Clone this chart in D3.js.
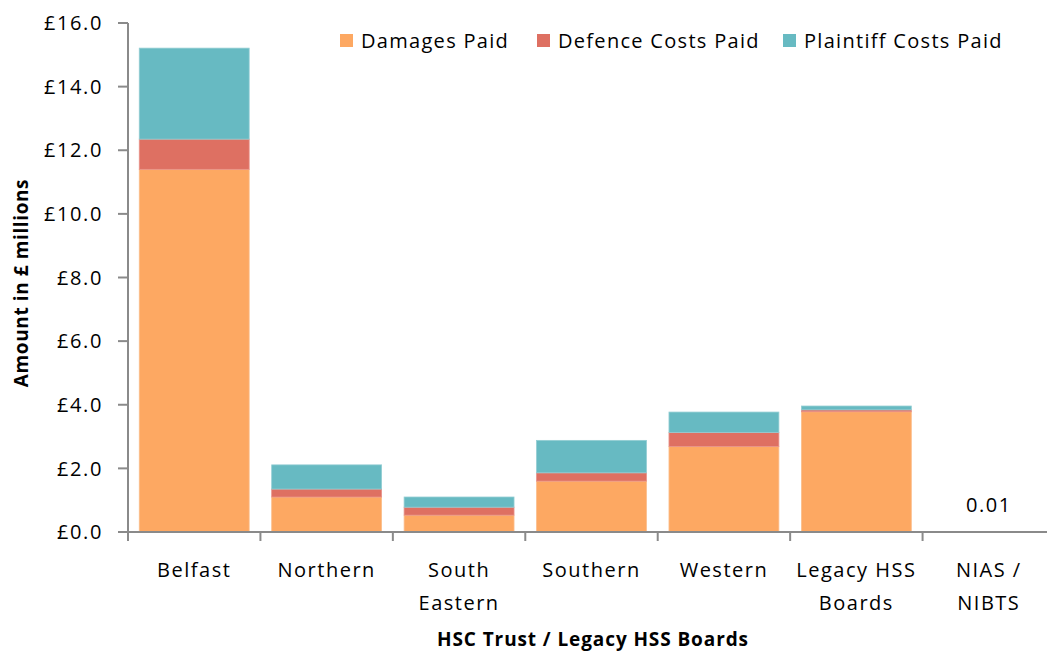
<!DOCTYPE html>
<html>
<head>
<meta charset="utf-8">
<script src="https://cdn.jsdelivr.net/npm/d3@7"></script>
<style>
  body { margin: 0; background: #fff; }
  text { font-family: "Open Sans", sans-serif; fill: #000; }
</style>
</head>
<body>
<script>
// Données du graphique
var categories = [["Belfast"], ["Northern"], ["South", "Eastern"], ["Southern"],
                  ["Western"], ["Legacy HSS", "Boards"], ["NIAS /", "NIBTS"]];
var series = ["Damages Paid", "Defence Costs Paid", "Plaintiff Costs Paid"];
var damages   = [11.40, 1.10, 0.53, 1.60, 2.69, 3.78, 0.004];
var defence   = [0.95, 0.25, 0.25, 0.26, 0.44, 0.06, 0.003];
var plaintiff = [2.86, 0.76, 0.32, 1.02, 0.64, 0.12, 0.003];
var yTicks = [0, 2, 4, 6, 8, 10, 12, 14, 16];
var totalLabels = [null, null, null, null, null, null, "0.01"];

var colors = ["#FDA862", "#DE7062", "#67BAC2"];
var strokes = ["#FBBE8C", "#E8938A", "#93CDD3"];

var width = 1047, height = 652;
var margin = {top: 23, right: -8, bottom: 120, left: 128};

var svg = d3.select("body").append("svg")
    .attr("width", width)
    .attr("height", height);

var innerW = width - margin.left - margin.right;
var innerH = height - margin.top - margin.bottom;

var g = svg.append("g")
    .attr("transform", `translate(${margin.left},${margin.top})`);

var x = d3.scaleBand()
    .domain(d3.range(categories.length))
    .range([0, innerW])
    .paddingInner(0.17)
    .paddingOuter(0.085);

var y = d3.scaleLinear()
    .domain([0, 16])
    .range([innerH, 0]);

// Tableau empilé
var rows = categories.map(function (c, i) {
    return {i: i, "Damages Paid": damages[i], "Defence Costs Paid": defence[i], "Plaintiff Costs Paid": plaintiff[i]};
});
var stacked = d3.stack().keys(series)(rows);

stacked.forEach(function (layer, k) {
    g.append("g").selectAll("rect")
        .data(layer)
        .join("rect")
        .attr("x", d => x(d.data.i))
        .attr("width", x.bandwidth())
        .attr("y", d => y(d[1]))
        .attr("height", d => Math.max(0, y(d[0]) - y(d[1])))
        .attr("fill", colors[k])
        .attr("stroke", strokes[k])
        .attr("stroke-width", 0.8);
});

// Axe des y
var axisColor = "#8a8a8a";
g.append("line")
    .attr("x1", 0).attr("x2", 0)
    .attr("y1", y(16)).attr("y2", y(0))
    .attr("stroke", axisColor).attr("stroke-width", 2);

var yt = g.append("g").selectAll("g").data(yTicks).join("g")
    .attr("transform", d => `translate(0,${y(d)})`);
yt.append("line")
    .attr("x1", -10).attr("x2", 0)
    .attr("stroke", axisColor).attr("stroke-width", 2);
yt.append("text")
    .attr("x", -25)
    .attr("dy", "0.36em")
    .attr("text-anchor", "end")
    .style("font-size", "20px")
    .style("letter-spacing", "1.6px")
    .text(d => "£" + d.toFixed(1));

// Axe des x
g.append("line")
    .attr("x1", -10).attr("x2", innerW)
    .attr("y1", y(0)).attr("y2", y(0))
    .attr("stroke", axisColor).attr("stroke-width", 2);

g.append("g").selectAll("line")
    .data(d3.range(categories.length + 1))
    .join("line")
    .attr("x1", d => d * innerW / categories.length)
    .attr("x2", d => d * innerW / categories.length)
    .attr("y1", y(0)).attr("y2", y(0) + 9)
    .attr("stroke", axisColor).attr("stroke-width", 2);

var labels = g.append("g").selectAll("text")
    .data(categories)
    .join("text")
    .attr("text-anchor", "middle")
    .attr("transform", (d, i) => `translate(${x(i) + x.bandwidth() / 2},${y(0) + 45})`)
    .style("font-size", "20px")
    .style("letter-spacing", "1.5px");
labels.selectAll("tspan")
    .data(d => d)
    .join("tspan")
    .attr("x", 0)
    .attr("dy", (d, j) => j === 0 ? 0 : 33)
    .text(d => d);

// Étiquette de total
g.append("g").selectAll("text")
    .data(totalLabels.map((t, i) => ({t: t, i: i})).filter(d => d.t))
    .join("text")
    .attr("x", d => x(d.i) + x.bandwidth() / 2)
    .attr("y", d => y(damages[d.i] + defence[d.i] + plaintiff[d.i]) - 20)
    .attr("text-anchor", "middle")
    .style("font-size", "20px")
    .style("letter-spacing", "1.5px")
    .text(d => d.t);

// Titres des axes
svg.append("text")
    .attr("x", (440 + 746) / 2)
    .attr("y", 646)
    .attr("text-anchor", "middle")
    .style("font-size", "19px")
    .style("font-weight", "bold")
    .style("letter-spacing", "0.9px")
    .text("HSC Trust / Legacy HSS  Boards");

svg.append("text")
    .attr("transform", "translate(28,283) rotate(-90)")
    .attr("text-anchor", "middle")
    .style("font-size", "19px")
    .style("font-weight", "bold")
    .style("letter-spacing", "0.6px")
    .text("Amount in £ millions");

// Légende
var legendX = [340, 537, 783];
var legend = svg.append("g").selectAll("g")
    .data(series)
    .join("g")
    .attr("transform", (d, i) => `translate(${legendX[i]},34)`);
legend.append("rect")
    .attr("width", 13).attr("height", 13)
    .attr("fill", (d, i) => colors[i]);
legend.append("text")
    .attr("x", 21)
    .attr("y", 7)
    .attr("dy", "0.36em")
    .style("font-size", "20px")
    .style("letter-spacing", "1.3px")
    .text(d => d);
</script>
</body>
</html>
